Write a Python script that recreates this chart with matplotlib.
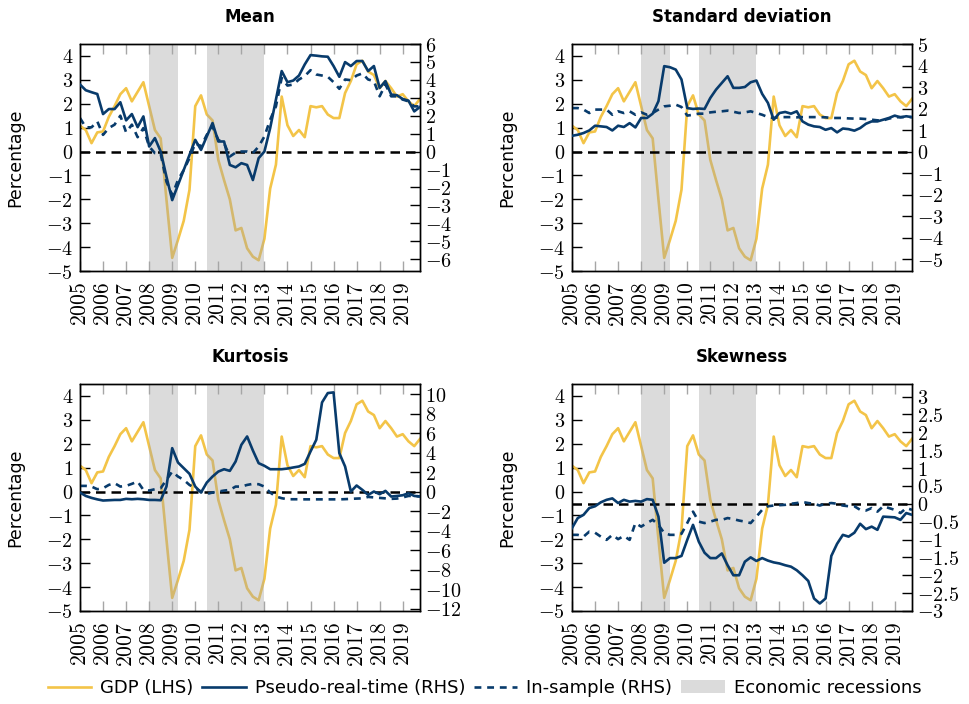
import matplotlib
matplotlib.use("Agg")
import matplotlib.pyplot as plt
import matplotlib.ticker as mticker
from matplotlib.lines import Line2D
from matplotlib.patches import Patch
import numpy as np

# ── Data (quarterly, 2005Q1 – 2019Q4) ────────────────────────────────────────

quarters = 2005 + np.arange(60) / 4

gdp = [1.08, 0.9, 0.35, 0.8, 0.84, 1.45, 1.9, 2.4, 2.65, 2.1, 2.5, 2.9,
       1.9, 0.9, 0.55, -2.0, -4.45, -3.7, -2.9, -1.6, 1.9, 2.35, 1.55, 1.3,
       -0.35, -1.2, -2.0, -3.3, -3.2, -4.05, -4.4, -4.55, -3.65, -1.55, -0.55, 2.3,
       1.1, 0.65, 0.9, 0.6, 1.9, 1.85, 1.9, 1.55, 1.4, 1.4, 2.45, 2.95,
       3.65, 3.8, 3.35, 3.2, 2.65, 2.95, 2.65, 2.3, 2.4, 2.1, 1.9, 2.2]

mean_prt = [3.74, 3.42, 3.31, 3.21, 2.09, 2.37, 2.37, 2.75, 1.74, 2.09, 1.36, 1.96,
            0.28, 0.75, 0.0, -1.4, -2.71, -1.87, -1.03, -0.19, 0.65, 0.09, 0.84, 1.59,
            0.56, 0.56, -0.75, -0.88, -0.65, -0.75, -1.59, -0.37, 0.0, 1.31, 2.9, 4.49,
            3.87, 3.96, 4.24, 4.86, 5.38, 5.35, 5.31, 5.29, 4.77, 4.17, 4.99, 4.77,
            5.05, 5.05, 4.49, 4.77, 3.55, 3.93, 3.18, 3.14, 2.93, 2.84, 2.24, 2.49]
mean_ins = [1.87, 1.35, 1.35, 1.68, 0.93, 1.31, 1.5, 2.0, 1.07, 1.5, 0.8, 1.31,
            0.28, -0.09, -0.13, -1.68, -2.43, -1.59, -1.03, -0.37, 0.47, 0.28, 0.93, 1.4,
            0.65, 0.47, -0.28, -0.06, 0.0, 0.0, -0.09, 0.28, 0.84, 1.78, 2.52, 4.11,
            3.68, 3.74, 4.02, 4.21, 4.54, 4.3, 4.24, 4.17, 3.87, 3.5, 4.02, 3.98,
            4.24, 4.36, 4.02, 3.93, 3.08, 3.74, 3.08, 3.08, 2.9, 2.8, 2.52, 2.52]

std_prt = [0.73, 0.78, 0.86, 0.98, 1.2, 1.17, 1.14, 0.98, 1.2, 1.14, 1.32, 1.12,
           1.56, 1.56, 1.76, 2.34, 3.97, 3.92, 3.81, 3.35, 2.02, 1.98, 2.0, 1.98,
           2.49, 2.88, 3.19, 3.5, 2.96, 2.96, 3.0, 3.22, 3.3, 2.68, 2.26, 1.48,
           1.79, 1.84, 1.76, 1.87, 1.4, 1.25, 1.17, 1.14, 1.01, 1.09, 0.89, 1.07,
           1.04, 0.97, 1.09, 1.29, 1.4, 1.4, 1.48, 1.56, 1.67, 1.59, 1.64, 1.6]
std_ins = [2.02, 2.02, 1.95, 1.79, 1.95, 1.95, 1.95, 1.71, 1.87, 1.79, 1.87, 1.71,
           1.82, 1.71, 1.79, 1.95, 2.1, 2.13, 2.18, 2.07, 1.67, 1.71, 1.76, 1.76,
           1.82, 1.85, 1.87, 1.9, 1.85, 1.79, 1.82, 1.87, 1.79, 1.71, 1.6, 1.56,
           1.6, 1.6, 1.6, 1.59, 1.6, 1.6, 1.6, 1.6, 1.59, 1.56, 1.56, 1.56,
           1.54, 1.53, 1.53, 1.51, 1.48, 1.45, 1.45, 1.53, 1.59, 1.6, 1.6, 1.6]

kurt_prt = [-0.1, -0.45, -0.65, -0.8, -0.92, -0.89, -0.86, -0.86, -0.75, -0.79, -0.75, -0.79,
            -0.86, -0.86, -0.89, 0.51, 4.45, 2.98, 2.4, 1.82, 0.51, -0.1, 0.92, 1.54,
            2.05, 2.29, 2.12, 3.08, 4.79, 5.65, 4.21, 2.91, 2.64, 2.29, 2.29, 2.29,
            2.36, 2.47, 2.57, 2.84, 4.11, 5.31, 9.14, 10.1, 10.17, 3.94, 2.57, 0.0,
            0.62, 0.17, -0.34, 0.0, -0.27, 0.07, -0.51, -0.45, -0.38, -0.17, -0.45, -0.51]
kurt_ins = [0.58, 0.58, 0.51, 0.24, 0.34, 0.68, 0.86, 0.51, 0.58, 0.79, 1.03, 0.17,
            0.1, 0.24, 0.34, 1.2, 2.05, 1.54, 1.2, 0.68, 0.34, 0.0, -0.24, -0.1,
            0.0, 0.1, 0.17, 0.51, 0.51, 0.68, 0.79, 0.75, 0.51, -0.1, -0.51, -0.68,
            -0.79, -0.79, -0.79, -0.8, -0.8, -0.8, -0.8, -0.8, -0.8, -0.8, -0.78, -0.75,
            -0.72, -0.7, -0.55, -0.6, -0.65, -0.7, -0.75, -0.72, -0.6, -0.45, -0.45, -0.5]

skew_prt = [-0.68, -0.4, -0.31, -0.12, -0.07, 0.04, 0.11, 0.15, 0.02, 0.11, 0.06, 0.08,
            0.06, 0.13, 0.11, -0.36, -1.65, -1.52, -1.52, -1.46, -1.01, -0.59, -1.06, -1.37,
            -1.52, -1.52, -1.39, -1.72, -2.0, -2.0, -1.62, -1.5, -1.6, -1.52, -1.59, -1.64,
            -1.67, -1.72, -1.76, -1.86, -2.0, -2.16, -2.65, -2.79, -2.65, -1.46, -1.12, -0.87,
            -0.92, -0.81, -0.56, -0.71, -0.64, -0.73, -0.36, -0.37, -0.38, -0.45, -0.26, -0.31]
skew_ins = [-0.87, -0.87, -0.92, -0.78, -0.81, -0.92, -1.01, -0.87, -0.99, -0.9, -1.01, -0.54,
            -0.64, -0.54, -0.45, -0.59, -0.82, -0.87, -0.87, -0.84, -0.54, -0.22, -0.5, -0.54,
            -0.5, -0.45, -0.45, -0.4, -0.43, -0.47, -0.5, -0.54, -0.36, -0.17, -0.07, -0.05,
            -0.04, -0.03, 0.0, 0.02, 0.05, 0.02, 0.0, -0.05, 0.0, 0.02, 0.0, -0.05,
            -0.07, -0.07, -0.17, -0.19, -0.12, -0.22, -0.07, -0.12, -0.17, -0.26, -0.12, -0.17]

recessions = [(2008.0, 2009.25), (2010.5, 2013.0)]
years = list(range(2005, 2020))

# ── Style ─────────────────────────────────────────────────────────────────────

plt.rcParams.update({
    "font.family": "DejaVu Sans",
    "mathtext.fontset": "cm",
    "axes.linewidth": 1.0,
})

C = {
    "gdp":   "#F3C448",
    "blue":  "#083B6C",
    "shade": "#A6A6A6",
}

LHS_LIM = (-5, 4.5)


def tex(v, _=None):
    return f"${v:g}$"


def panel(ax, title, prt, ins, rlim, rticks):
    ax.plot(quarters, gdp, color=C["gdp"], lw=1.9, zorder=2)
    for a, b in recessions:
        ax.axvspan(a, b, color=C["shade"], alpha=0.4, lw=0, zorder=3)
    ax.set_xlim(2005, 2019.75)
    ax.set_ylim(*LHS_LIM)
    ax.set_yticks(range(-5, 5))
    ax.yaxis.set_major_formatter(mticker.FuncFormatter(tex))
    ax.set_xticks(years)
    ax.set_xticklabels([f"${y}$" for y in years], rotation=90)
    ax.tick_params(axis="x", direction="in", length=7, width=1, color="0.65",
                   top=True, labelsize=15.5, pad=8)
    ax.tick_params(axis="y", direction="in", length=7, width=1,
                   labelsize=14.5, pad=5)
    ax.set_ylabel("Percentage", fontsize=12.5)
    ax.yaxis.set_label_coords(-0.165, 0.5)
    ax.set_title(title, fontsize=12, fontweight="bold", pad=16)

    ax2 = ax.twinx()
    ax2.axhline(0, color="black", lw=1.8, ls=(0, (3.8, 2.4)), zorder=1)
    ax2.plot(quarters, ins, color=C["blue"], lw=1.9, ls=(0, (2.6, 2.2)), zorder=2)
    ax2.plot(quarters, prt, color=C["blue"], lw=1.9, zorder=3)
    ax2.set_ylim(*rlim)
    ax2.set_yticks(rticks)
    ax2.yaxis.set_major_formatter(mticker.FuncFormatter(tex))
    ax2.tick_params(axis="y", direction="in", length=7, width=1,
                    labelsize=14.5, pad=3.5)
    return ax2


fig = plt.figure(figsize=(9.69, 7.04), dpi=100)
W, H = 969, 704
boxes = {
    "tl": (80, 44), "tr": (572, 44),
    "bl": (80, 384), "br": (572, 384),
}
axw, axh = 340, 227


def add_axes(key):
    x0, y0 = boxes[key]
    return fig.add_axes([x0 / W, 1 - (y0 + axh) / H, axw / W, axh / H])


panel(add_axes("tl"), "Mean", mean_prt, mean_ins,
      (-6.667, 6.0), range(-6, 7))
panel(add_axes("tr"), "Standard deviation", std_prt, std_ins,
      (-5.556, 5.0), range(-5, 6))
panel(add_axes("bl"), "Kurtosis", kurt_prt, kurt_ins,
      (-12.25, 11.03), range(-12, 11, 2))
panel(add_axes("br"), "Skewness", skew_prt, skew_ins,
      (-3.0, 3.35), np.arange(-3, 3.01, 0.5))

handles = [
    Line2D([], [], color=C["gdp"], lw=1.9),
    Line2D([], [], color=C["blue"], lw=1.9),
    Line2D([], [], color=C["blue"], lw=1.9, ls=(0, (2.6, 2.2))),
    Patch(facecolor=C["shade"], alpha=0.4, lw=0),
]
labels = ["GDP (LHS)", "Pseudo-real-time (RHS)", "In-sample (RHS)",
          "Economic recessions"]
fig.legend(handles, labels, loc="center", bbox_to_anchor=(0.5, 1 - 688 / H),
           ncol=4, frameon=False, fontsize=13, handlelength=2.4,
           handletextpad=0.5, columnspacing=0.5)

fig.savefig("out.png", dpi=100)
